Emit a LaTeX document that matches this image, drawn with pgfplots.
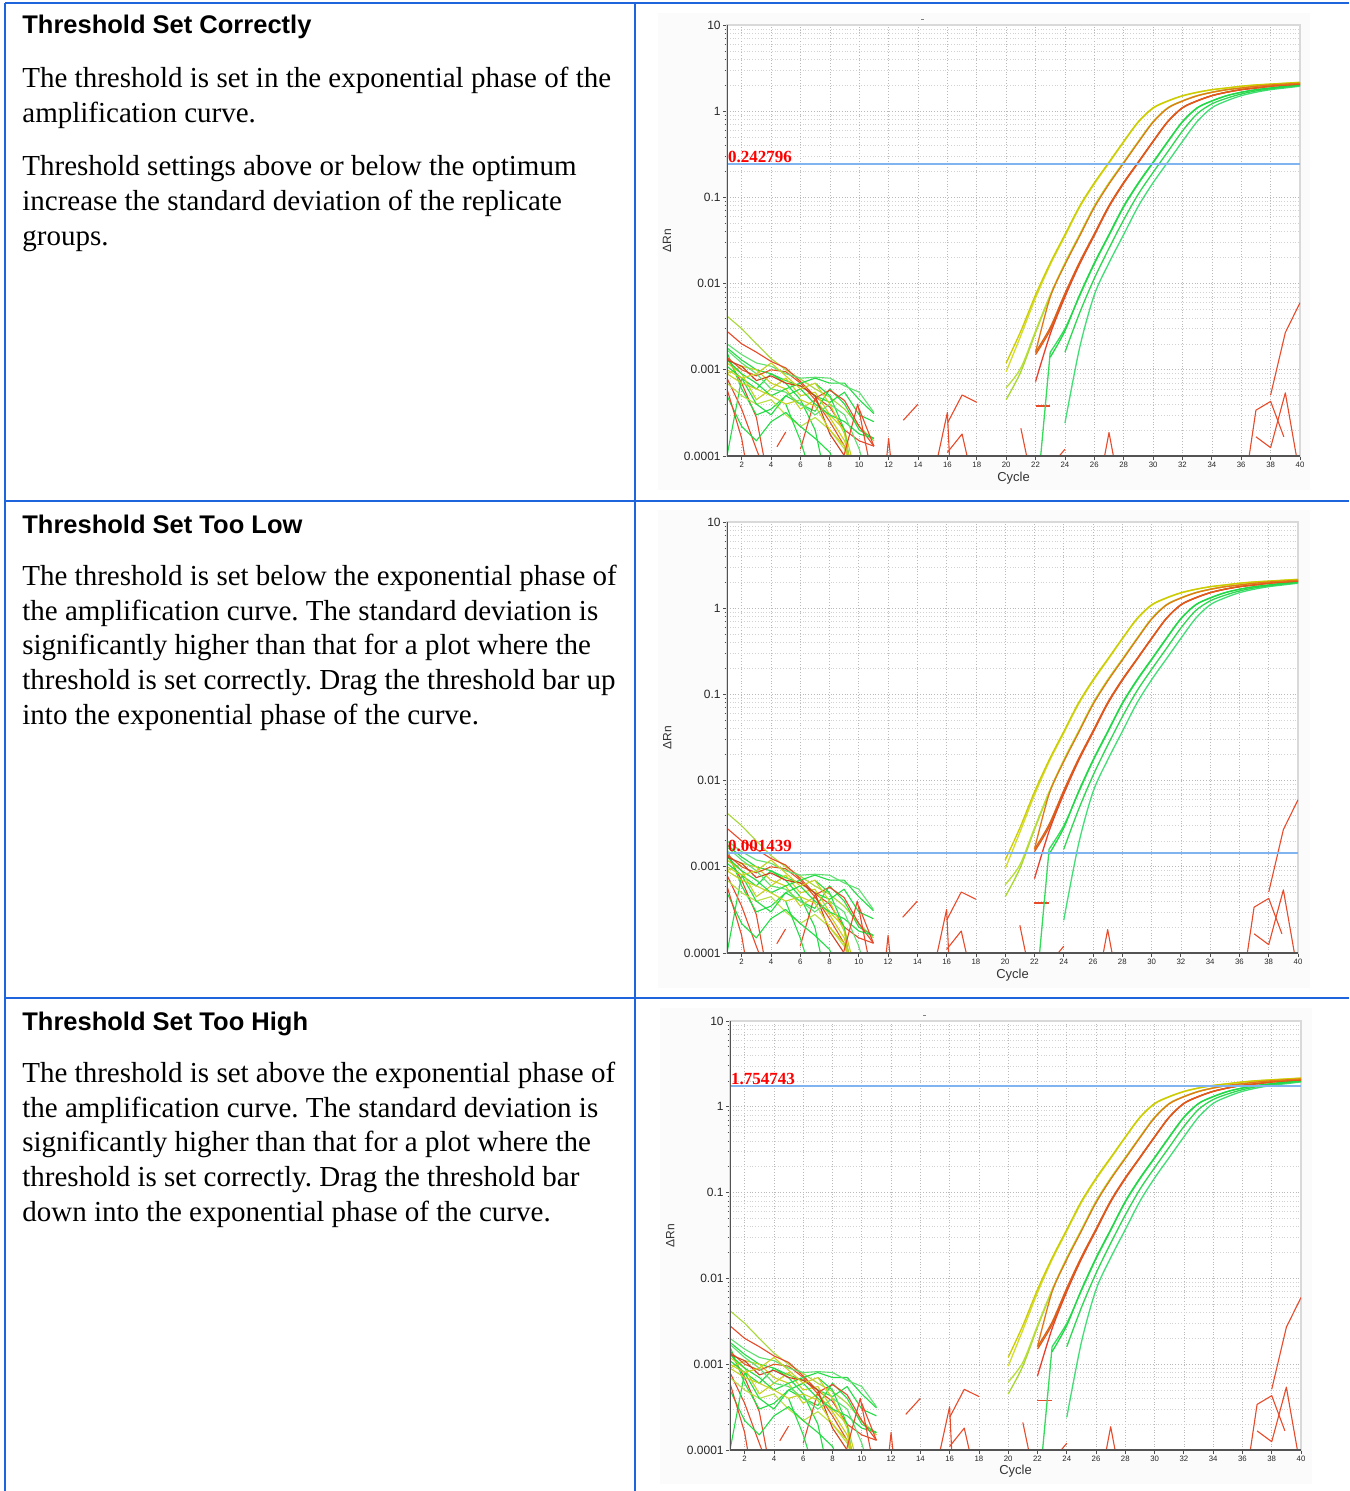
\documentclass[border=0pt]{standalone}
\usepackage{fontspec}
\setmainfont{Liberation Serif}
\setsansfont{Liberation Sans}
\usepackage{pgfplots}
\pgfplotsset{compat=1.18}

\definecolor{tblue}{HTML}{1E64DC}
\definecolor{thr}{HTML}{80B4F0}
\definecolor{cG}{HTML}{22DD44}
\definecolor{cLG}{HTML}{60E070}
\definecolor{cY}{HTML}{C8D020}
\definecolor{cLY}{HTML}{B8E040}
\definecolor{cYG}{HTML}{A8D838}
\definecolor{cR}{HTML}{E84A2A}
\definecolor{cO}{HTML}{E05A20}
\definecolor{cDR}{HTML}{D04020}
\definecolor{aY1}{HTML}{CCCC00}
\definecolor{aY2}{HTML}{D4DC2C}
\definecolor{aYG1}{HTML}{B8DE3A}
\definecolor{aYG2}{HTML}{A8D830}
\definecolor{aO1}{HTML}{E47818}
\definecolor{aO2}{HTML}{E05A18}
\definecolor{aR1}{HTML}{E8402E}
\definecolor{aO3}{HTML}{D4661A}
\definecolor{aG1}{HTML}{22D846}
\definecolor{aG2}{HTML}{34DC5A}
\definecolor{aG3}{HTML}{2ED850}
\definecolor{aG4}{HTML}{40DE74}

\newcommand{\bodyfont}{\frenchspacing\fontsize{14.5}{17.25}\selectfont}
\newcommand{\headfont}{\sffamily\bfseries\fontsize{12.75}{15}\selectfont}

\pgfplotsset{
  every axis/.append style={
  scale only axis,
  axis background/.style={fill=white},
  xtick={2,4,...,40},
  xticklabels={2,4,6,8,10,12,14,16,18,20,22,24,26,28,30,32,34,36,38,40},
  ytick={1e-4,1e-3,1e-2,1e-1,1,10},
  yticklabels={0.0001,0.001,0.01,0.1,1,10},
  minor ytick={2e-4,3e-4,4e-4,5e-4,6e-4,7e-4,8e-4,9e-4,
    2e-3,3e-3,4e-3,5e-3,6e-3,7e-3,8e-3,9e-3,
    0.02,0.03,0.04,0.05,0.06,0.07,0.08,0.09,
    0.2,0.3,0.4,0.5,0.6,0.7,0.8,0.9,
    2,3,4,5,6,7,8,9},
  grid=both,
  major grid style={densely dotted, gray!55, line width=0.35pt},
  minor grid style={densely dotted, gray!35, line width=0.3pt},
  tick align=outside, tickpos=left,
  major tick length=2pt, minor tick length=1.2pt,
  tick style={gray!60!black, line width=0.4pt},
  axis line style={gray!30, line width=0.9pt},
  yticklabel style={font=\sffamily\fontsize{6}{6.5}\selectfont, text=black!85, inner sep=1pt},
  xticklabel style={font=\sffamily\fontsize{3.9}{4}\selectfont, text=black!85, inner sep=1pt},
  xlabel style={at={(axis description cs:0.5,-0.058)}, anchor=base, font=\sffamily\fontsize{6.5}{7}\selectfont, text=black!80},
  ylabel style={at={(axis description cs:-0.1047,0.5)}, anchor=center, font=\sffamily\fontsize{6}{7}\selectfont, text=black!80},
  },
  every axis plot/.append style={line width=0.55pt, line join=round},
}

\newcommand{\qpcrcurves}{%
\addplot[cYG] coordinates {(1,0.0042) (2,0.0030) (3,0.0020) (4,0.00135) (5,0.0010) (6,0.00078) (7,0.00060) (8,0.00048) (9,0.00035) (10,0.00022) (11,0.00015)};
\addplot[cR] coordinates {(1,0.0028) (2,0.0020) (3,0.0016) (4,0.00125) (5,0.00105) (6,0.00073) (7,0.00049) (8,0.00037) (9,0.0002) (10,0.00015) (11,0.00013)};
\addplot[cR] coordinates {(1,0.0008) (2,0.00035) (3,0.00012) (3.4,0.00008)};
\addplot[cR] coordinates {(1,0.0014) (2,0.0007) (3,0.00028) (3.6,0.00008)};
\addplot[cG] coordinates {(1,0.0018) (2,0.0013) (3,0.0010) (4,0.0009) (5,0.00075) (6,0.00065) (7,0.0005) (8,0.00042) (9,0.00055) (10,0.0003) (11,0.00025)};
\addplot[cG] coordinates {(1,0.0016) (2,0.0006) (3,0.0003) (4,0.00035) (5,0.0005) (6,0.0004) (7,0.00033) (8,0.0006) (9,0.0004) (10,0.0002) (11,0.00016)};
\addplot[cG] coordinates {(1,0.0001) (2,0.0008) (3,0.0006) (4,0.0009) (5,0.0007) (6,0.00045) (7,0.0002) (7.5,0.00008)};
\addplot[cY] coordinates {(1,0.0012) (2,0.0009) (3,0.00045) (4,0.0006) (5,0.0008) (6,0.0005) (7,0.00055) (8,0.0003) (9,0.0002) (9.6,0.00008)};
\addplot[cY] coordinates {(1,0.0009) (2,0.0011) (3,0.0010) (4,0.0007) (5,0.0006) (6,0.00035) (7,0.00045) (8,0.00028) (9,0.00015) (9.5,0.00008)};
\addplot[cLY] coordinates {(1,0.0007) (2,0.0005) (3,0.0004) (4,0.00045) (5,0.0003) (6,0.00022) (7,0.00028) (8,0.0002) (9,0.00012) (9.4,0.00008)};
\addplot[cO] coordinates {(1,0.0014) (2,0.0010) (3,0.00085) (4,0.001) (5,0.00095) (6,0.0007) (7,0.00045) (8,0.00025) (9,0.00013) (9.5,0.00008)};
\addplot[cR] coordinates {(4.4,0.000128) (5,0.00019)};
\addplot[cR] coordinates {(6,0.00012) (7,0.00047) (8,0.00058) (9,0.00044) (10,0.00022) (11,0.00013)};
\addplot[cG] coordinates {(1,0.0013) (2,0.0009) (3,0.0007) (4,0.0005) (5,0.0006) (6,0.0007) (7,0.0008) (8,0.0007) (9,0.0007) (10,0.00045) (11,0.00031)};
\addplot[cG] coordinates {(1,0.0011) (2,0.0008) (3,0.0004) (4,0.0003) (5,0.0005) (6,0.0006) (7,0.0004) (8,0.0003) (9,0.00025) (10,0.00018) (11,0.00016)};
\addplot[cG] coordinates {(5,0.0004) (6,0.00015) (6.5,0.00008)};
\addplot[cG] coordinates {(7,0.0007) (8,0.0005) (9,0.0002) (9.5,0.00006)};
\addplot[cLG] coordinates {(1,0.0020) (2,0.0015) (3,0.0012) (4,0.0011) (5,0.0009) (6,0.0008) (7,0.00082) (8,0.0008) (9,0.00065) (10,0.00055) (11,0.00032)};
\addplot[cDR] coordinates {(1,0.0013) (2,0.0011) (3,0.00075) (4,0.00085) (5,0.0007) (6,0.00065) (7,0.0005) (8,0.00018) (9,0.0001) (10,0.00007)};
\addplot[cY] coordinates {(1,0.0009) (2,0.0007) (3,0.0006) (4,0.0005) (5,0.0004) (6,0.00045) (7,0.00038) (8,0.0002) (9,0.00013) (9.5,0.00008)};
\addplot[cG] coordinates {(1,0.0005) (2,0.00022) (3,0.00015) (4,0.00025) (5,0.00032) (6,0.00022) (7,0.00016) (8,0.00011) (8.5,0.00007)};
\addplot[cR] coordinates {(1,0.0006) (2,0.00016) (2.3,0.00008)};
\addplot[cLG] coordinates {(1,0.0017) (2,0.0012) (3,0.0009) (4,0.0006) (5,0.00055) (6,0.0004) (7,0.0003) (8,0.0004) (9,0.0003) (10,0.00012) (10.3,0.00008)};
\addplot[cY] coordinates {(1,0.0010) (2,0.0008) (3,0.0009) (4,0.0012) (5,0.00085) (6,0.0006) (7,0.0007) (8,0.0004) (9,0.00018) (9.4,0.00008)};
\addplot[cR] coordinates {(8.95,0.0001) (9.9,0.0004) (10.6,0.0001)};
\addplot[cR] coordinates {(10,0.00035) (11,0.00013)};
\addplot[cR] coordinates {(11.85,0.00009) (12,0.00016) (12.15,0.00009)};
\addplot[cR] coordinates {(13,0.00026) (14,0.0004)};
\addplot[cR] coordinates {(15.3,0.00009) (16,0.00032) (16.15,0.00009)};
\addplot[cR] coordinates {(16,0.00024) (17,0.00051) (18,0.00042)};
\addplot[cR] coordinates {(16,0.00011) (17,0.00018) (17.4,0.00009)};
\addplot[cR] coordinates {(21,0.00021) (21.45,0.00009)};
\addplot[cR] coordinates {(23.4,0.00009) (24,0.00012)};
\addplot[cR] coordinates {(22,0.00038) (23,0.00038)};
\addplot[cR] coordinates {(26.65,0.00009) (27,0.000187) (27.35,0.00009)};
\addplot[cR] coordinates {(36.5,0.00009) (37,0.00034) (38,0.00043) (38.9,0.000167)};
\addplot[cR] coordinates {(37,0.000167) (38,0.000125) (39,0.00054) (39.8,0.00009)};
\addplot[cR] coordinates {(38,0.00051) (39,0.0027) (40,0.006)};
\addplot[aG4, line width=0.65pt, smooth] coordinates {(24,0.00024) (25,0.0018) (26,0.00741) (27,0.01738) (28,0.03715) (29,0.07943) (30,0.1479) (31,0.2570) (32,0.4467) (33,0.7586) (34,1.096) (35,1.318) (36,1.514) (37,1.660) (38,1.778) (39,1.862) (40,1.950)};
\addplot[aG3, line width=0.65pt, smooth] coordinates {(24,0.0016) (25,0.004571) (26,0.01148) (27,0.02570) (28,0.05495) (29,0.1096) (30,0.1950) (31,0.3388) (32,0.5888) (33,0.9333) (34,1.216) (35,1.413) (36,1.585) (37,1.718) (38,1.820) (39,1.905) (40,1.986)};
\addplot[aG2, line width=0.65pt] coordinates {(22.35,0.0001) (23,0.0016)};
\addplot[aG2, line width=0.65pt, smooth] coordinates {(23,0.0016) (24,0.0030) (25,0.0072) (26,0.0169) (27,0.0362) (28,0.0775) (29,0.1445) (30,0.2520) (31,0.4400) (32,0.7500) (33,1.088) (34,1.310) (35,1.508) (36,1.655) (37,1.774) (38,1.858) (39,1.946) (40,2.014)};
\addplot[aG1, line width=0.65pt, smooth] coordinates {(23,0.0014) (24,0.00282) (25,0.00741) (26,0.01738) (27,0.03715) (28,0.07943) (29,0.1479) (30,0.2570) (31,0.4467) (32,0.7586) (33,1.096) (34,1.318) (35,1.514) (36,1.660) (37,1.778) (38,1.862) (39,1.950) (40,2.018)};
\addplot[aYG2, line width=0.65pt, smooth] coordinates {(20,0.00045) (21,0.00095) (22,0.0027) (23,0.0072) (24,0.0170) (25,0.0365) (26,0.0785) (27,0.1465) (28,0.2550) (29,0.4440) (30,0.7550) (31,1.092) (32,1.315) (33,1.511) (34,1.658) (35,1.776) (36,1.860) (37,1.948) (38,2.016) (39,2.063) (40,2.111)};
\addplot[aYG1, line width=0.65pt, smooth] coordinates {(20,0.00062) (21,0.00105) (22,0.00282) (23,0.00741) (24,0.01738) (25,0.03715) (26,0.07943) (27,0.1479) (28,0.2570) (29,0.4467) (30,0.7586) (31,1.096) (32,1.318) (33,1.514) (34,1.660) (35,1.778) (36,1.862) (37,1.950) (38,2.018) (39,2.065) (40,2.113)};
\addplot[aY2, line width=0.65pt, smooth] coordinates {(20,0.00095) (21,0.0025) (22,0.0068) (23,0.0165) (24,0.0355) (25,0.0765) (26,0.1430) (27,0.2500) (28,0.4380) (29,0.7450) (30,1.080) (31,1.305) (32,1.500) (33,1.650) (34,1.770) (35,1.855) (36,1.945) (37,2.012) (38,2.060) (39,2.108) (40,2.158)};
\addplot[aY1, line width=0.65pt, smooth] coordinates {(20,0.0012) (21,0.00282) (22,0.00741) (23,0.01738) (24,0.03715) (25,0.07943) (26,0.1479) (27,0.2570) (28,0.4467) (29,0.7586) (30,1.096) (31,1.318) (32,1.514) (33,1.660) (34,1.778) (35,1.862) (36,1.950) (37,2.018) (38,2.065) (39,2.113) (40,2.163)};
\addplot[aO3, line width=0.65pt, smooth] coordinates {(22,0.0016) (23,0.0031) (24,0.0077) (25,0.0178) (26,0.0378) (27,0.0805) (28,0.1495) (29,0.2590) (30,0.4490) (31,0.7610) (32,1.099) (33,1.321) (34,1.516) (35,1.662) (36,1.780) (37,1.864) (38,1.952) (39,2.020) (40,2.067)};
\addplot[aR1, line width=0.65pt, smooth] coordinates {(22,0.00073) (23,0.0026) (24,0.0070) (25,0.0168) (26,0.0362) (27,0.0778) (28,0.1455) (29,0.2540) (30,0.4430) (31,0.7540) (32,1.092) (33,1.315) (34,1.512) (35,1.658) (36,1.776) (37,1.860) (38,1.948) (39,2.016) (40,2.063)};
\addplot[aO2, line width=0.65pt, smooth] coordinates {(22,0.0015) (23,0.0029) (24,0.00741) (25,0.01738) (26,0.03715) (27,0.07943) (28,0.1479) (29,0.2570) (30,0.4467) (31,0.7586) (32,1.096) (33,1.318) (34,1.514) (35,1.660) (36,1.778) (37,1.862) (38,1.950) (39,2.018) (40,2.065)};
\addplot[aO1, line width=0.65pt, smooth] coordinates {(22,0.0016) (23,0.0070) (24,0.0166) (25,0.0356) (26,0.0765) (27,0.1430) (28,0.2500) (29,0.4370) (30,0.7450) (31,1.085) (32,1.310) (33,1.508) (34,1.655) (35,1.774) (36,1.858) (37,1.946) (38,2.014) (39,2.062) (40,2.110)};
}

\begin{document}
\begin{tikzpicture}
\useasboundingbox (0pt,0pt) rectangle (674.5pt,-745.5pt);
\fill[black!1.5] (329pt,-6.5pt) rectangle (655pt,-245pt);
\fill[black!1.5] (329pt,-255pt) rectangle (655pt,-494pt);
\fill[black!1.5] (330pt,-504pt) rectangle (656pt,-742pt);
\draw[tblue, line width=1pt] (2.5pt,-1.5pt) -- (674.5pt,-1.5pt);
\draw[tblue, line width=1pt] (2.5pt,-250.5pt) -- (674.5pt,-250.5pt);
\draw[tblue, line width=1pt] (2.5pt,-499pt) -- (674.5pt,-499pt);
\draw[tblue, line width=1pt] (2.5pt,-1.5pt) -- (2.5pt,-745.5pt);
\draw[tblue, line width=1pt] (317.5pt,-1.5pt) -- (317.5pt,-745.5pt);

\node[anchor=base west, inner sep=0, font=\headfont] at (11pt,-17pt) {Threshold Set Correctly};
\node[anchor=base west, inner sep=0, font=\bodyfont] at (11pt,-43.75pt) {The threshold is set in the exponential phase of the};
\node[anchor=base west, inner sep=0, font=\bodyfont] at (11pt,-61.25pt) {amplification curve.};
\node[anchor=base west, inner sep=0, font=\bodyfont] at (11pt,-87.75pt) {Threshold settings above or below the optimum};
\node[anchor=base west, inner sep=0, font=\bodyfont] at (11pt,-105.25pt) {increase the standard deviation of the replicate};
\node[anchor=base west, inner sep=0, font=\bodyfont] at (11pt,-122.75pt) {groups.};
\node[anchor=base west, inner sep=0, font=\headfont] at (11pt,-266.5pt) {Threshold Set Too Low};
\node[anchor=base west, inner sep=0, font=\bodyfont] at (11pt,-292.75pt) {The threshold is set below the exponential phase of};
\node[anchor=base west, inner sep=0, font=\bodyfont] at (11pt,-310.25pt) {the amplification curve. The standard deviation is};
\node[anchor=base west, inner sep=0, font=\bodyfont] at (11pt,-327.25pt) {significantly higher than that for a plot where the};
\node[anchor=base west, inner sep=0, font=\bodyfont] at (11pt,-344.75pt) {threshold is set correctly. Drag the threshold bar up};
\node[anchor=base west, inner sep=0, font=\bodyfont] at (11pt,-362.25pt) {into the exponential phase of the curve.};
\node[anchor=base west, inner sep=0, font=\headfont] at (11pt,-515pt) {Threshold Set Too High};
\node[anchor=base west, inner sep=0, font=\bodyfont] at (11pt,-541.25pt) {The threshold is set above the exponential phase of};
\node[anchor=base west, inner sep=0, font=\bodyfont] at (11pt,-558.75pt) {the amplification curve. The standard deviation is};
\node[anchor=base west, inner sep=0, font=\bodyfont] at (11pt,-575.75pt) {significantly higher than that for a plot where the};
\node[anchor=base west, inner sep=0, font=\bodyfont] at (11pt,-593.25pt) {threshold is set correctly. Drag the threshold bar};
\node[anchor=base west, inner sep=0, font=\bodyfont] at (11pt,-610.75pt) {down into the exponential phase of the curve.};

\draw[gray, line width=0.4pt] (460.7pt,-9.7pt) -- (462.2pt,-9.7pt);
\draw[gray, line width=0.4pt] (461.7pt,-507.5pt) -- (463.2pt,-507.5pt);

\begin{axis}[at={(363.5pt,-228pt)}, anchor=south west, width=286.5pt, height=215.5pt,
  ymode=log, xmin=1, xmax=40, ymin=1e-4, ymax=10, xlabel={Cycle}, ylabel={ΔRn}]
\qpcrcurves
\addplot[thr, line width=1.2pt] coordinates {(1,0.242796) (40,0.242796)};
\node[anchor=south west, inner sep=0.4pt, text=red, font=\rmfamily\bfseries\fontsize{8.5}{8.5}\selectfont] at (axis cs:1,0.242796) {0.242796};
\draw[gray!65!black, line width=0.6pt] (rel axis cs:0,1) -- (rel axis cs:0,0) -- (rel axis cs:1,0);
\end{axis}

\begin{axis}[at={(363.5pt,-476.5pt)}, anchor=south west, width=285.5pt, height=215.5pt,
  ymode=log, xmin=1, xmax=40, ymin=1e-4, ymax=10, xlabel={Cycle}, ylabel={ΔRn}]
\qpcrcurves
\addplot[thr, line width=1.2pt] coordinates {(1,0.001439) (40,0.001439)};
\node[anchor=south west, inner sep=0.4pt, text=red, font=\rmfamily\bfseries\fontsize{8.5}{8.5}\selectfont] at (axis cs:1,0.001439) {0.001439};
\draw[gray!65!black, line width=0.6pt] (rel axis cs:0,1) -- (rel axis cs:0,0) -- (rel axis cs:1,0);
\end{axis}

\begin{axis}[at={(365pt,-725pt)}, anchor=south west, width=285.5pt, height=214.5pt,
  ymode=log, xmin=1, xmax=40, ymin=1e-4, ymax=10, xlabel={Cycle}, ylabel={ΔRn}]
\qpcrcurves
\addplot[thr, line width=1.2pt] coordinates {(1,1.754743) (40,1.754743)};
\node[anchor=south west, inner sep=0.4pt, text=red, font=\rmfamily\bfseries\fontsize{8.5}{8.5}\selectfont] at (axis cs:1,1.754743) {1.754743};
\draw[gray!65!black, line width=0.6pt] (rel axis cs:0,1) -- (rel axis cs:0,0) -- (rel axis cs:1,0);
\end{axis}
\end{tikzpicture}
\end{document}
